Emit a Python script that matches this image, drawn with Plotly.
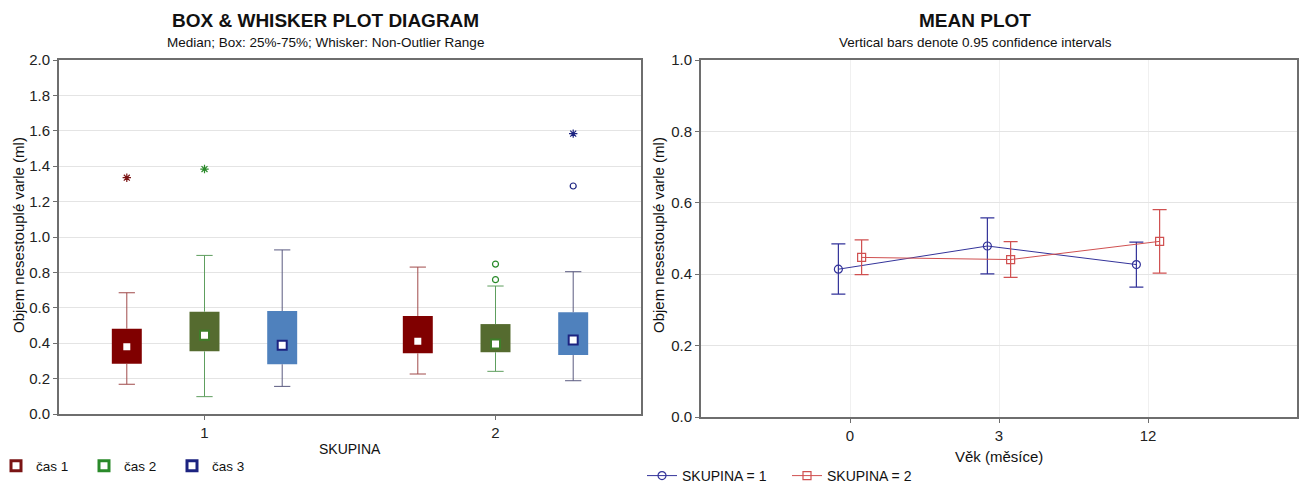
import plotly.graph_objects as go

# ---------------- data ----------------
skupina = ["1", "2"]
cas_names = ["čas 1", "čas 2", "čas 3"]

# box statistics, one row per time point (čas 1..3), columns = SKUPINA 1, 2
box_low = [[0.168, 0.226], [0.098, 0.241], [0.156, 0.188]]
box_q1 = [[0.284, 0.343], [0.354, 0.349], [0.281, 0.333]]
box_median = [[0.380, 0.411], [0.445, 0.395], [0.388, 0.418]]
box_q3 = [[0.482, 0.554], [0.578, 0.508], [0.582, 0.575]]
box_high = [[0.685, 0.830], [0.896, 0.723], [0.927, 0.804]]

# outliers (circle) and extremes (asterisk)
out_cas = [0, 1, 1, 1, 2, 2]
out_group = [1, 1, 2, 2, 2, 2]
out_value = [1.335, 1.384, 0.847, 0.759, 1.584, 1.288]
out_extreme = [True, True, False, False, True, False]

# mean plot
vek = ["0", "3", "12"]
mean_s1 = [0.414, 0.479, 0.427]
ci_low_s1 = [0.344, 0.401, 0.364]
ci_high_s1 = [0.485, 0.558, 0.490]
mean_s2 = [0.447, 0.441, 0.492]
ci_low_s2 = [0.399, 0.391, 0.403]
ci_high_s2 = [0.496, 0.491, 0.581]

# ---------------- styling ----------------
FONT = "Liberation Sans, Arial, sans-serif"
box_fill = ["#800000", "#556b2f", "#4f81bd"]
whisker_col = ["#a04a4a", "#5e9e5e", "#5a5a80"]
point_col = ["#7a1414", "#2a8a2a", "#1c2380"]
median_border = ["#800000", "#3f7f2a", "#1c2380"]
legend_col = ["#7a1414", "#2a8a2a", "#1c2380"]
offsets = [-0.267, 0.0, 0.267]
box_w = 0.103
cap_half = 0.028

S1_COL = "#33339a"
S2_COL = "#d05050"
pt_off = 0.078

fig = go.Figure()

# ---- box & whisker panel ----
for c in range(3):
    xs = [i + 1 + offsets[c] for i in range(len(skupina))]
    # boxes (25%-75%)
    fig.add_trace(go.Bar(
        x=xs, base=box_q1[c],
        y=[box_q3[c][i] - box_q1[c][i] for i in range(len(skupina))],
        width=box_w, marker=dict(color=box_fill[c], line=dict(width=0)),
        showlegend=False, hoverinfo="skip", xaxis="x", yaxis="y"))
    # whiskers with caps
    wx, wy = [], []
    for i, x in enumerate(xs):
        wx += [x, x, None, x, x, None,
               x - cap_half, x + cap_half, None, x - cap_half, x + cap_half, None]
        wy += [box_q3[c][i], box_high[c][i], None, box_q1[c][i], box_low[c][i], None,
               box_high[c][i], box_high[c][i], None, box_low[c][i], box_low[c][i], None]
    fig.add_trace(go.Scatter(
        x=wx, y=wy, mode="lines", line=dict(color=whisker_col[c], width=1),
        showlegend=False, hoverinfo="skip", xaxis="x", yaxis="y"))
    # outliers
    for kind in (True, False):
        ox = [out_group[k] + offsets[c] for k in range(len(out_value))
              if out_cas[k] == c and out_extreme[k] == kind]
        oy = [out_value[k] for k in range(len(out_value))
              if out_cas[k] == c and out_extreme[k] == kind]
        if ox:
            fig.add_trace(go.Scatter(
                x=ox, y=oy, mode="markers",
                marker=dict(symbol="asterisk-open" if kind else "circle-open",
                            size=7 if kind else 6, color=point_col[c],
                            line=dict(width=1.2, color=point_col[c])),
                showlegend=False, xaxis="x", yaxis="y"))

# medians
for c in range(3):
    xs = [i + 1 + offsets[c] for i in range(len(skupina))]
    fig.add_trace(go.Scatter(
        x=xs, y=box_median[c], mode="markers", name=cas_names[c],
        marker=dict(symbol="square", size=9, color="white",
                    line=dict(width=2, color=median_border[c])),
        showlegend=False, xaxis="x", yaxis="y"))

# legend keys for the time points
for c in range(3):
    fig.add_trace(go.Scatter(
        x=[None], y=[None], mode="markers", name=cas_names[c],
        marker=dict(symbol="square", size=10, color="white",
                    line=dict(width=3, color=legend_col[c])),
        legend="legend", xaxis="x", yaxis="y"))

# ---- mean plot panel ----
for mean, lo, hi, col, sym, name, off in (
        (mean_s1, ci_low_s1, ci_high_s1, S1_COL, "circle-open", "SKUPINA = 1", -pt_off),
        (mean_s2, ci_low_s2, ci_high_s2, S2_COL, "square-open", "SKUPINA = 2", pt_off)):
    fig.add_trace(go.Scatter(
        x=[i + off for i in range(len(vek))], y=mean, mode="lines+markers",
        name=name, line=dict(color=col, width=1),
        marker=dict(symbol=sym, size=8, color=col, line=dict(width=1.2)),
        error_y=dict(type="data", symmetric=False,
                     array=[hi[i] - mean[i] for i in range(len(vek))],
                     arrayminus=[mean[i] - lo[i] for i in range(len(vek))],
                     color=col, thickness=1.2, width=7),
        legend="legend2", xaxis="x2", yaxis="y2"))

AX_LINE = "#6e6e6e"
GRID = "#e4e4e4"
tickfont = dict(family=FONT, size=15, color="#222")

fig.update_layout(
    width=1300, height=488,
    margin=dict(l=0, r=0, t=0, b=0, autoexpand=False),
    paper_bgcolor="white", plot_bgcolor="white",
    barmode="overlay",
    font=dict(family=FONT, color="#111"),
    xaxis=dict(domain=[59 / 1300, 641 / 1300], range=[0.5, 2.5],
               tickvals=[1, 2], ticktext=skupina, showgrid=False,
               showline=True, linecolor=AX_LINE, linewidth=2, mirror=True,
               ticks="outside", ticklen=4, tickcolor=AX_LINE, tickfont=tickfont,
               zeroline=False, anchor="y"),
    yaxis=dict(domain=[74 / 488, 428 / 488], range=[0, 2], dtick=0.2,
               tickformat=".1f", showgrid=True, gridcolor=GRID,
               showline=True, linecolor=AX_LINE, linewidth=2, mirror=True,
               ticks="outside", ticklen=4, tickcolor=AX_LINE, tickfont=tickfont,
               zeroline=False, anchor="x"),
    # inward tick marks along the right frame of the box panel
    yaxis3=dict(overlaying="y", side="right", anchor="x", range=[0, 2], dtick=0.2,
                ticks="inside", ticklen=4, tickcolor=AX_LINE, showticklabels=False,
                showgrid=False, showline=False, zeroline=False),
    xaxis2=dict(domain=[701 / 1300, 1297 / 1300], range=[-1, 3],
                tickvals=[0, 1, 2], ticktext=vek, showgrid=True, gridcolor="#f0f0f0",
                showline=True, linecolor=AX_LINE, linewidth=2, mirror=True,
                ticks="outside", ticklen=4, tickcolor=AX_LINE, tickfont=tickfont,
                zeroline=False, anchor="y2"),
    yaxis2=dict(domain=[71 / 488, 428 / 488], range=[0, 1], dtick=0.2,
                tickformat=".1f", showgrid=True, gridcolor=GRID,
                showline=True, linecolor=AX_LINE, linewidth=2, mirror=True,
                ticks="outside", ticklen=4, tickcolor=AX_LINE, tickfont=tickfont,
                zeroline=False, anchor="x2"),
    legend=dict(orientation="h", x=-4 / 1300, xanchor="left", y=22 / 488,
                yanchor="middle", font=dict(family=FONT, size=13.5, color="#111"),
                entrywidth=43, bgcolor="rgba(0,0,0,0)"),
    legend2=dict(orientation="h", x=642 / 1300, xanchor="left", y=12 / 488,
                 yanchor="middle", font=dict(family=FONT, size=14, color="#111"),
                 entrywidth=100, bgcolor="rgba(0,0,0,0)"),
)

ann = [
    dict(text="<b>BOX &amp; WHISKER PLOT DIAGRAM</b>", x=325 / 1300, y=(488 - 20) / 488,
         font=dict(size=19)),
    dict(text="Median; Box: 25%-75%; Whisker: Non-Outlier Range", x=325 / 1300,
         y=(488 - 42) / 488, font=dict(size=13.5)),
    dict(text="<b>MEAN PLOT</b>", x=975 / 1300, y=(488 - 20) / 488, font=dict(size=19)),
    dict(text="Vertical bars denote 0.95 confidence intervals", x=975 / 1300,
         y=(488 - 42) / 488, font=dict(size=13.5)),
    dict(text="Objem nesestouplé varle (ml)", x=18 / 1300, y=(488 - 235) / 488,
         textangle=-90, font=dict(size=15)),
    dict(text="Objem nesestouplé varle (ml)", x=658 / 1300, y=(488 - 235) / 488,
         textangle=-90, font=dict(size=15)),
    dict(text="SKUPINA", x=350 / 1300, y=(488 - 449) / 488, font=dict(size=14)),
    dict(text="Věk (měsíce)", x=999 / 1300, y=(488 - 456) / 488, font=dict(size=15)),
]
for a in ann:
    a.update(xref="paper", yref="paper", showarrow=False,
             xanchor="center", yanchor="middle")
    a["font"].update(family=FONT, color="#111")
fig.update_layout(annotations=ann)

fig.write_html("out.html")
